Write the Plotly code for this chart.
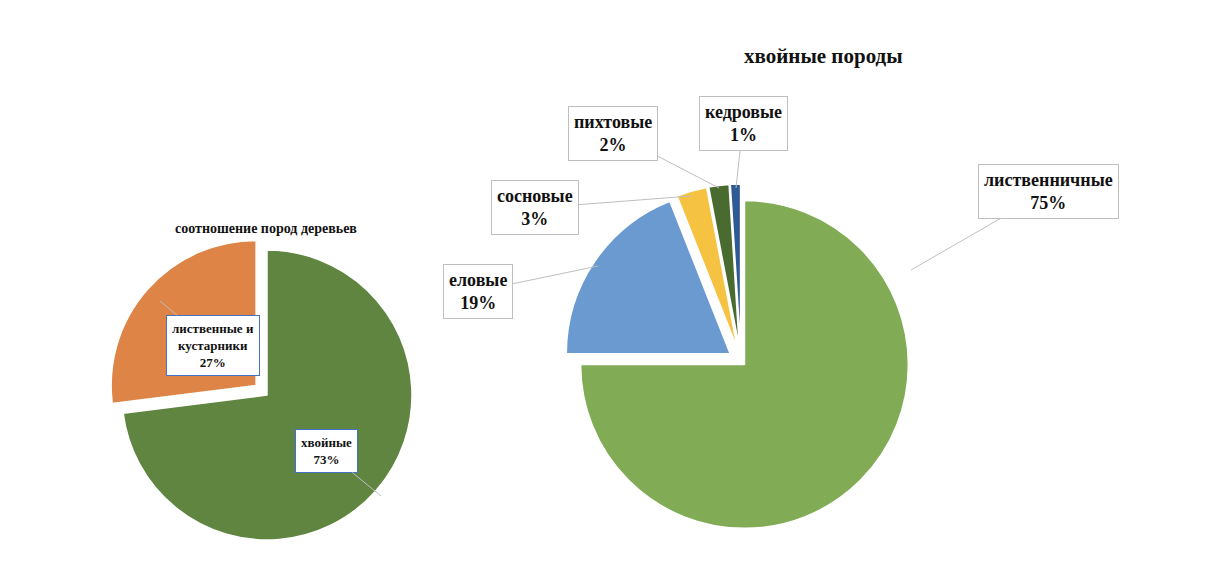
import plotly.graph_objects as go

left_labels = ["хвойные", "лиственные и<br>кустарники"]
left_values = [73, 27]
right_labels = ["лиственничные", "еловые", "сосновые", "пихтовые", "кедровые"]
right_values = [75, 19, 3, 2, 1]

W, H = 1218, 566
def px(x): return x / W
def py(y): return 1 - y / H

fig = go.Figure()
fig.add_trace(go.Pie(labels=left_labels, values=left_values, sort=False, direction="clockwise",
                     rotation=0, pull=[0, 0.1], textinfo="none", hoverinfo="label+percent",
                     marker=dict(colors=["#5f8540", "#de8446"], line=dict(color="white", width=1.5)),
                     domain=dict(x=[px(99.5), px(418.5)], y=[py(546.5), py(227.5)]),
                     showlegend=False))
fig.add_trace(go.Pie(labels=right_labels, values=right_values, sort=False, direction="clockwise",
                     rotation=0, pull=[0.03, 0.08, 0.08, 0.08, 0.08], textinfo="none",
                     hoverinfo="label+percent",
                     marker=dict(colors=["#82ab55", "#6a9ad0", "#f5c242", "#4a6b30", "#2f5a94"],
                                 line=dict(color="white", width=1.5)),
                     domain=dict(x=[px(556), px(910)], y=[py(530), py(176)]),
                     showlegend=False))

font_r = dict(family="Liberation Serif", size=18, color="#111")
font_l = dict(family="Liberation Serif", size=13, color="#111")

def label(text, pt, box, font, border):
    fig.add_annotation(x=px(pt[0]), y=py(pt[1]), xref="paper", yref="paper",
                       ax=box[0] - pt[0], ay=box[1] - pt[1], text="<b>" + text + "</b>",
                       showarrow=True, arrowhead=0, arrowwidth=1, arrowcolor="#bfbfbf",
                       font=font, bgcolor="white", bordercolor=border, borderwidth=1, borderpad=5)

label("лиственничные<br>75%", (903, 262), (1040, 183), font_r, "#bfbfbf")
label("еловые<br>19%", (590, 258), (470, 283), font_r, "#bfbfbf")
label("сосновые<br>3%", (683, 188), (527, 200), font_r, "#bfbfbf")
label("пихтовые<br>2%", (711, 180), (605, 125), font_r, "#bfbfbf")
label("кедровые<br>1%", (728, 180), (735, 115), font_r, "#bfbfbf")
label("лиственные и<br>кустарники<br>27%", (152, 293), (205, 337), font_l, "#4472c4")
label("хвойные<br>73%", (373, 488), (318, 443), font_l, "#4472c4")

fig.add_annotation(x=px(815), y=py(48), xref="paper", yref="paper", showarrow=False,
                   xanchor="center", yanchor="middle",
                   text="<b>хвойные породы</b>", font=dict(family="Liberation Serif", size=21, color="#111"))
fig.add_annotation(x=px(258), y=py(220), xref="paper", yref="paper", showarrow=False,
                   xanchor="center", yanchor="middle",
                   text="<b>соотношение пород деревьев</b>", font=dict(family="Liberation Serif", size=14, color="#111"))

fig.update_layout(width=W, height=H, margin=dict(l=0, r=0, t=0, b=0),
                  paper_bgcolor="white", plot_bgcolor="white")
fig.write_html("out.html")
